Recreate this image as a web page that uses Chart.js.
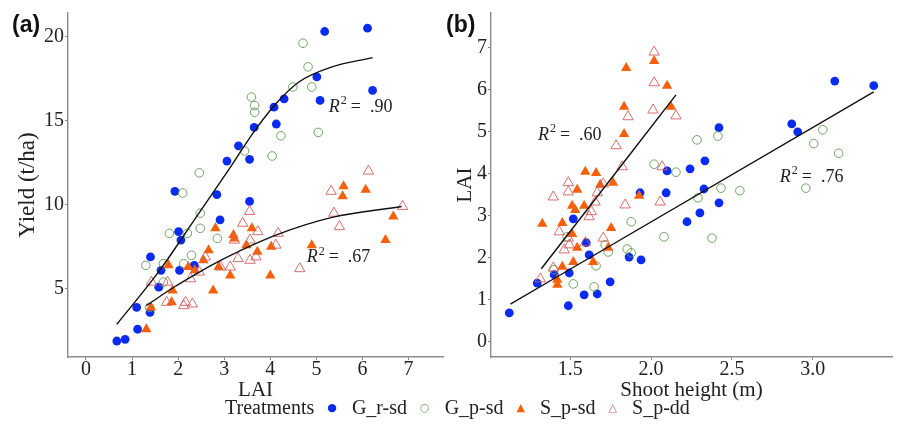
<!DOCTYPE html>
<html>
<head>
<meta charset="utf-8">
<script src="https://cdn.jsdelivr.net/npm/chart.js@4.4.1/dist/chart.umd.min.js"></script>
<style>
  body { margin: 0; background: #fff; width: 899px; height: 428px; position: relative; overflow: hidden;
         font-family: "Liberation Serif", "Times New Roman", serif; color: #222; }
  canvas { position: absolute; top: 0; }
  #chartA { left: 0; }
  #chartB { left: 450px; }
  .panel { position: absolute; top: 11px; font: bold 23px "Liberation Sans", Arial, sans-serif; color: #111; }
  #legend { position: absolute; left: 225px; top: 396px; display: flex; align-items: center;
            font-size: 20px; white-space: nowrap; }
  #legend .mk { font-family: "DejaVu Sans", sans-serif; font-size: 11px; margin: 0 15px 0 13px; }
</style>
</head>
<body>
<canvas id="chartA" width="450" height="401"></canvas>
<canvas id="chartB" width="449" height="401"></canvas>
<div class="panel" style="left:12px">(a)</div>
<div class="panel" style="left:446px">(b)</div>
<div id="legend">
  <span>Treatments</span>
  <span class="mk" style="color:#0a2bf2">●</span><span>G_r-sd</span>
  <span class="mk" style="color:#5f9a55">○</span><span>G_p-sd</span>
  <span class="mk" style="color:#f7600a">▲</span><span>S_p-sd</span>
  <span class="mk" style="color:#d45f5f">△</span><span>S_p-dd</span>
</div>
<script>
// ---- panel (a): yield vs LAI, [LAI, yield] ----
const yieldGrSd = [[5.18,20.3],[6.11,20.5],[5.01,17.6],[5.08,16.2],[6.22,16.8],[4.30,16.3],[4.08,15.8],
  [4.13,14.8],[3.65,14.6],[3.31,13.5],[3.06,12.6],[3.55,12.7],[1.93,10.8],[2.84,10.6],[3.55,10.2],
  [2.91,9.1],[2.01,8.4],[2.06,7.9],[1.40,6.9],[2.35,6.4],[1.63,6.1],[2.03,6.1],[1.58,5.1],[1.10,3.9],
  [1.39,3.6],[1.12,2.6],[0.67,1.9],[0.85,2.0]];
const yieldGpSd = [[4.71,19.6],[4.82,18.2],[4.49,17.0],[4.90,17.0],[3.59,16.4],[3.66,15.9],[3.66,15.5],
  [4.23,14.1],[5.04,14.3],[3.44,13.2],[4.04,12.9],[2.46,11.9],[2.10,10.7],[2.48,9.5],[2.48,8.6],
  [1.81,8.3],[2.20,8.3],[2.85,8.0],[2.29,7.0],[1.68,6.5],[2.12,6.5],[1.30,6.4],[1.68,5.4],[1.38,3.9]];
const yieldSpSd = [[5.59,11.1],[5.57,10.5],[6.07,10.9],[6.67,9.3],[6.50,7.9],[2.81,8.6],[3.60,8.6],
  [3.20,8.2],[3.22,8.0],[2.66,7.3],[3.48,7.6],[3.72,7.2],[4.02,7.5],[4.90,7.6],[2.55,6.7],[1.79,6.4],
  [2.22,6.3],[2.36,6.1],[2.88,6.3],[3.13,5.8],[4.00,5.8],[2.76,4.9],[1.88,4.9],[1.86,4.2],[1.41,3.9],
  [1.31,2.6]];
const yieldSpDd = [[6.13,12.0],[5.32,10.8],[6.87,9.9],[5.38,9.5],[5.50,8.7],[3.55,9.6],[3.40,8.9],
  [3.73,8.4],[4.17,8.3],[4.12,7.6],[3.22,7.9],[3.56,7.9],[3.30,6.8],[3.56,6.7],[3.69,6.9],[2.59,6.9],
  [3.13,6.3],[2.92,6.3],[2.46,6.0],[4.64,6.2],[2.27,5.6],[1.42,5.4],[1.77,5.4],[1.75,4.2],[2.16,4.2],
  [2.31,4.1],[2.12,4.0]];
// fitted curves
const yieldFitG = [[0.67,2.9],[1.6,6.1],[2.4,9.3],[3.15,12.3],[3.61,14.2],[4.12,16.0],[4.62,17.3],[5.34,18.2],[6.22,18.75]];
const yieldFitS = [[1.31,4.0],[1.88,5.05],[2.46,6.0],[2.89,6.65],[3.33,7.25],[4.12,8.2],[5.34,9.25],[6.85,9.9]];
const laiTicks = [0, 1, 2, 3, 4, 5, 6, 7];
const yieldTicks = [5, 10, 15, 20];
const r2A = [{ x: 5.27, y: 15.8, text: '.90' }, { x: 4.79, y: 6.85, text: '.67' }];

// ---- panel (b): LAI vs shoot height, [height, LAI] ----
const laiGrSd = [[3.136,6.21],[3.377,6.10],[2.870,5.19],[2.907,5.00],[2.420,5.10],[2.333,4.31],[2.241,4.12],
  [2.099,4.07],[1.932,3.55],[2.093,3.55],[2.327,3.64],[2.420,3.31],[2.302,3.07],[2.222,2.86],[1.519,2.93],
  [1.599,2.36],[1.617,2.07],[1.864,2.02],[1.938,1.95],[1.401,1.60],[1.494,1.64],[1.296,1.40],[1.747,1.43],
  [1.586,1.12],[1.667,1.14],[1.488,0.86],[1.123,0.69]];
const laiGpSd = [[3.062,5.05],[3.006,4.72],[3.160,4.49],[2.413,4.90],[2.284,4.81],[2.019,4.23],[2.154,4.04],
  [2.957,3.66],[2.432,3.66],[2.549,3.60],[2.290,3.43],[1.877,2.86],[2.080,2.50],[2.377,2.47],[1.852,2.21],
  [1.877,2.12],[1.716,2.31],[1.735,2.14],[1.660,1.81],[1.519,1.38],[1.648,1.31],[1.481,2.50],[1.400,1.72]];
const laiSpSd = [[1.846,6.52],[2.019,6.69],[2.099,6.10],[2.123,5.60],[1.833,5.60],[1.833,4.95],[1.593,4.05],
  [1.660,4.02],[1.685,3.74],[1.765,3.79],[1.543,3.62],[1.926,3.48],[1.512,3.24],[1.531,3.14],[1.586,3.24],
  [1.327,2.81],[1.451,2.83],[1.753,2.71],[1.512,2.57],[1.543,2.24],[1.735,2.24],[1.519,1.90],[1.642,1.90],
  [1.451,1.79],[1.420,1.48],[1.420,1.36]];
const laiSpDd = [[2.019,6.90],[2.019,6.17],[2.012,5.52],[2.154,5.38],[1.858,5.36],[1.784,4.67],[1.821,4.17],
  [2.068,4.17],[1.488,3.79],[1.488,3.57],[1.704,3.76],[1.667,3.55],[1.395,3.45],[1.840,3.26],[2.056,3.33],
  [1.654,3.33],[1.630,3.10],[1.617,2.98],[1.432,2.62],[1.704,2.47],[1.488,2.47],[1.463,2.19],[1.494,2.31],
  [1.395,1.76],[1.315,1.50],[1.593,2.36]];
const laiFitS = [[1.321,1.74],[2.154,5.88]];
const laiFitG = [[1.130,0.90],[3.377,5.95]];
const heightTicks = [1.5, 2.0, 2.5, 3.0];
const heightTickLabels = ['1.5', '2.0', '2.5', '3.0'];
const laiYTicks = [0, 1, 2, 3, 4, 5, 6, 7];
const r2B = [{ x: 1.30, y: 4.93, text: '.60' }, { x: 2.796, y: 3.93, text: '.76' }];

Chart.defaults.font.family = '"Liberation Serif", "Times New Roman", serif';
Chart.defaults.color = '#222';

const pts = arr => arr.map(([x, y]) => ({ x, y }));

function seriesSets(gr, gp, sp, sd, fits) {
  const sets = fits.map(f => ({
    data: pts(f), showLine: true, borderColor: '#111', borderWidth: 1.4, pointRadius: 0,
    cubicInterpolationMode: 'monotone', fill: false, order: 0
  }));
  return sets.concat([
    { data: pts(gr), pointStyle: 'circle', pointRadius: 4.4, backgroundColor: '#0a2bf2', borderColor: '#0a2bf2', borderWidth: 0, order: 4 },
    { data: pts(gp), pointStyle: 'circle', pointRadius: 4.3, backgroundColor: 'rgba(0,0,0,0)', borderColor: '#5f9a55', borderWidth: 0.9, order: 3 },
    { data: pts(sp), pointStyle: 'triangle', pointRadius: 6, backgroundColor: '#f7600a', borderColor: '#f7600a', borderWidth: 0, order: 2 },
    { data: pts(sd), pointStyle: 'triangle', pointRadius: 6, backgroundColor: 'rgba(0,0,0,0)', borderColor: '#d45f5f', borderWidth: 0.9, order: 1 }
  ]);
}

function axis(min, max, ticks, labels, title, fit, titlePad, titleLine, titleSize, tickPad) {
  return {
    type: 'linear', min, max,
    border: { display: true, color: '#8a8a8a', width: 1.4 },
    grid: { display: true, drawOnChartArea: false, drawTicks: true, tickLength: 3, color: '#8a8a8a' },
    ticks: { font: { size: 20 }, padding: tickPad, color: '#222',
             callback: (v, i) => labels ? labels[i] : String(v) },
    afterBuildTicks: s => { s.ticks = ticks.map(v => ({ value: v })); },
    afterFit: fit,
    title: { display: true, text: title, font: { size: titleSize, lineHeight: titleLine },
             padding: titlePad, color: '#222' }
  };
}

const r2Plugin = {
  id: 'r2',
  afterDatasetsDraw(chart, args, opts) {
    const { ctx, scales: { x, y } } = chart;
    (opts.items || []).forEach(it => {
      let px = x.getPixelForValue(it.x);
      const py = y.getPixelForValue(it.y);
      ctx.save();
      ctx.fillStyle = '#222';
      ctx.textBaseline = 'middle';
      ctx.textAlign = 'left';
      ctx.font = 'italic 18px "Liberation Serif"';
      ctx.fillText('R', px, py);
      px += ctx.measureText('R').width + 1;
      ctx.font = '12px "Liberation Serif"';
      ctx.fillText('2', px, py - 6);
      px += ctx.measureText('2').width + 4;
      ctx.font = '18px "Liberation Serif"';
      ctx.fillText('=  ' + it.text, px, py);
      ctx.restore();
    });
  }
};

function makeChart(id, datasets, scales, pad, items) {
  return new Chart(document.getElementById(id), {
    type: 'scatter',
    data: { datasets },
    options: {
      responsive: false, animation: false, devicePixelRatio: 1,
      layout: { padding: pad },
      plugins: { legend: { display: false }, tooltip: { enabled: false }, r2: { items } },
      scales
    },
    plugins: [r2Plugin]
  });
}

makeChart('chartA',
  seriesSets(yieldGrSd, yieldGpSd, yieldSpSd, yieldSpDd, [yieldFitG, yieldFitS]),
  {
    x: axis(-0.39, 7.75, laiTicks, null, 'LAI', s => { s.height = 44; }, { top: 0, bottom: 0 }, 1, 21, -2),
    y: axis(0.95, 21.4, yieldTicks, null, 'Yield (t/ha)', s => { s.width = 68; }, { top: 14, bottom: 0 }, 1.2, 23, 1)
  },
  { top: 13, right: 5, left: 0, bottom: 0 }, r2A);

makeChart('chartB',
  seriesSets(laiGrSd, laiGpSd, laiSpSd, laiSpDd, [laiFitS, laiFitG]),
  {
    x: axis(1.01, 3.49, heightTicks, heightTickLabels, 'Shoot height (m)', s => { s.height = 44; }, { top: 0, bottom: 0 }, 1, 21, -2),
    y: axis(-0.36, 7.83, laiYTicks, null, 'LAI', s => { s.width = 41; }, { top: 3, bottom: 0 }, 1.2, 21, 1)
  },
  { top: 13, right: 7, left: 0, bottom: 0 }, r2B);
</script>
</body>
</html>
